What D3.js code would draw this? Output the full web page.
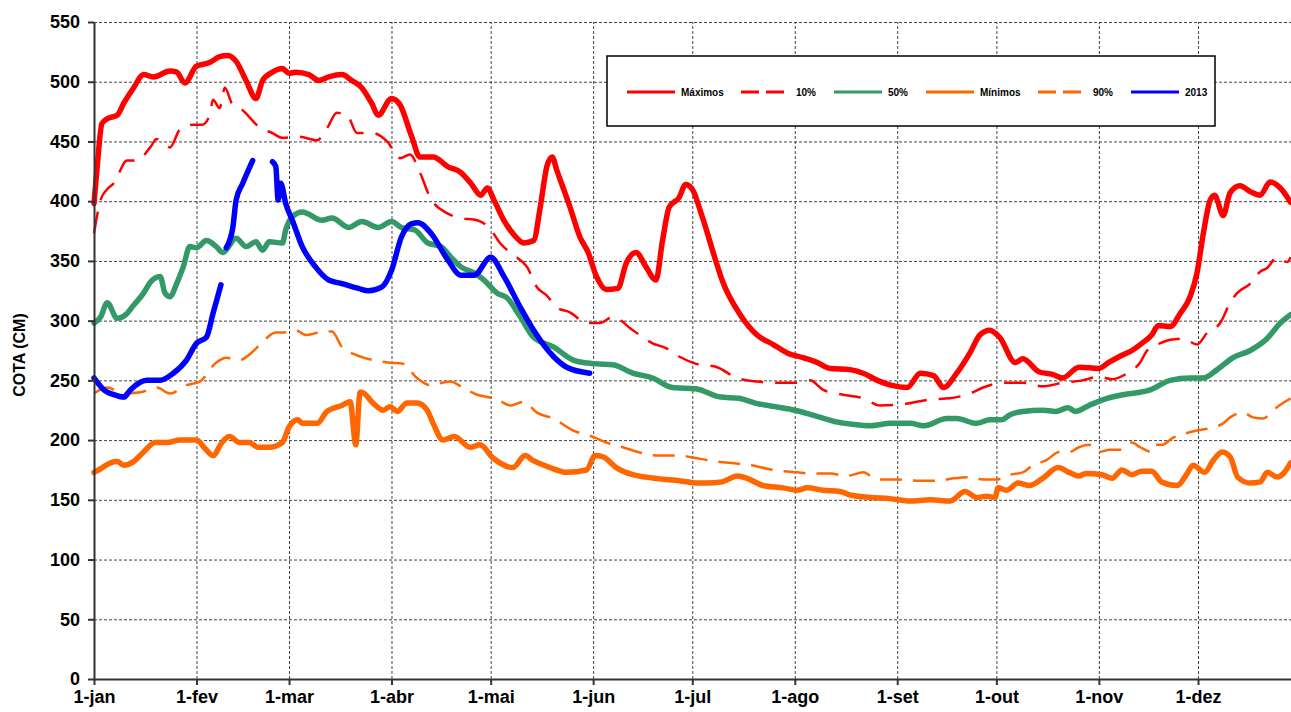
<!DOCTYPE html>
<html>
<head>
<meta charset="utf-8">
<script src="https://d3js.org/d3.v7.min.js"></script>
<style>
  body { margin: 0; background: #fff; }
  svg { display: block; font-family: "Liberation Sans", Arial, sans-serif; }
  .grid line { stroke: #444; stroke-width: 1; stroke-dasharray: 3,2; }
  .grid path { display: none; }
  .axis path, .axis line { stroke: #333; stroke-width: 2; }
  .axis text { font-size: 18px; font-weight: bold; fill: #000; }
  .serie { fill: none; stroke-linejoin: round; }
  .legenda text { font-size: 10px; font-weight: bold; }
</style>
</head>
<body>
<div id="chart"></div>
<script>
// dias do ano onde comeca cada mes + rotulos
var monthDays = [0, 31, 59, 90, 120, 151, 181, 212, 243, 273, 304, 334];
var monthLabels = ["1-jan", "1-fev", "1-mar", "1-abr", "1-mai", "1-jun", "1-jul", "1-ago", "1-set", "1-out", "1-nov", "1-dez"];
var yTicks = [0, 50, 100, 150, 200, 250, 300, 350, 400, 450, 500, 550];

// [dia, cota em cm]
var maximos = [[0,398],[1,430],[2.4,465],[4,469],[7,472],[9,482],[12,495],[15,506],[18,504],[23,509],[25,508],[27.5,499],[31,513],[35,516],[38,521],[40.5,522],[43,517],[46,501],[49,486],[51,501],[54,508],[57,511],[59,507],[61,508],[65,506],[68,501],[71,504],[75,506],[78,501],[81,495],[84,482],[86,472],[90,486],[92.5,481],[96,455],[98.6,437],[102.6,437],[107,429],[111,424],[114,415],[117,405],[119,411],[121,401],[124,384],[127,372],[130,365],[133,367],[135,395],[137,429],[138.6,437],[140,426],[144,395],[147,370],[149.5,357],[152,337],[155,326],[158.5,327],[161,348],[164,357],[167,345],[170,334],[172,367],[174,395],[177,403],[179,414],[181,410],[184,387],[188,351],[190,334],[195.5,305],[200.6,288],[205.5,280],[209.7,273],[214.5,269],[218.8,265],[222.7,260],[228.7,259],[232.7,256],[237,250],[241,246],[246,244],[250,256],[254,254],[257,244],[261,256],[265,273],[268,288],[271,292],[274,286],[278.7,265],[281,268],[286,257],[290,255],[293,252],[298,261],[304,260],[307,265],[311,271],[314,275],[317,281],[320,288],[322,296],[325.6,295],[328.6,306],[331.6,320],[333.7,340],[335.6,373],[337.7,401],[339,405],[341.6,388],[343.7,407],[346.7,413],[349.8,408],[352.8,405],[355.8,416],[358.9,411],[362,399]];

var p10 = [[0,373],[2,401],[4,410],[6,415],[10,434],[13,434],[17,445],[19,452],[23,445],[26,460],[30,464],[32.7,464],[35,472],[36,485],[38,478],[39.6,495],[41.7,482],[45,476],[50,462],[54,457],[57,453],[62,454],[67.5,451],[70.5,461],[73.5,474],[76.6,472],[79.6,457],[84.4,457],[88.7,450],[92.6,436],[95.6,439],[98.6,424],[101.7,403],[106.8,390],[110.7,386],[115.9,384],[119.8,377],[122.8,365],[126.8,355],[131,345],[134,328],[137,321],[140,311],[144,307],[149,298],[153,298],[157,303],[163,292],[169,281],[173,277],[177,270],[182,264],[188.5,261],[194.5,252],[200.6,249],[206.7,248],[212.7,248],[216.6,250],[220.6,242],[226.6,238],[232.7,235],[237.8,229],[244.8,230],[253,234],[259,235],[265,239],[269,244],[275,248],[281,248],[287,245],[293,248],[299,250],[304,253],[308,251],[312.6,256],[316.5,265],[318.6,275],[322.5,281],[325.6,284],[329.5,285],[333.7,280],[336.8,290],[340.7,298],[343.7,315],[345.8,323],[349.8,331],[352.8,341],[354.9,344],[357.9,353],[361,349],[362,353]];

var p50 = [[0,298],[2,303],[4,315],[7,302],[10,306],[12,313],[15,323],[17,332],[20,337],[21.5,323],[23,320],[25,331],[27,345],[29,362],[31,361],[34,367],[37,362],[39,357],[43,369],[46,362],[49,366],[51,359],[53,366],[57,365],[58,376],[60,387],[63,391],[69,384],[72,386],[77,378],[81,383],[86,378],[90,383],[93,378],[97,376],[101,365],[105,362],[108,353],[111,345],[115,340],[118,334],[122,323],[125,319],[129,303],[133,286],[139,278],[145,267],[151,264],[157,263],[163,256],[169,252],[175,244],[182,243],[189.6,236],[195,235],[200,231],[206,228],[212,225],[219.8,219],[225,215],[230,213],[235,212],[241,214],[247,214],[251,212],[258,218],[261,218],[267,214],[271,217],[274.6,217],[277,221],[281,224],[287,225],[291,224],[294.6,227],[297,224],[301,229],[306.5,235],[311.3,238],[319.5,242],[325.6,250],[331.6,252],[335.6,252],[339.8,259],[344.6,269],[349.8,275],[354.9,285],[358.9,298],[362,305]];

var minimos = [[0,173],[2,176],[5,181],[7,182],[9,179],[12,182],[15,190],[18.5,198],[22,198],[26,200],[31,200],[33.6,193],[36,187],[38.7,198],[41,203],[44,198],[47,198],[49.6,194],[53,194],[57,198],[59,211],[61.7,217],[63,214],[67.5,214],[70.5,224],[75,229],[77.5,232],[79.2,196],[80.5,240],[81,240],[84.4,231],[87.5,225],[89.6,228],[91.7,224],[94.7,231],[97.7,231],[100.8,225],[102.6,214],[105.6,200],[109,203],[113.8,194],[116.8,196],[120.7,185],[126.8,177],[130.4,187],[132.8,183],[138,177],[143,173],[149,175],[151.6,187],[154,186],[158,177],[163,171],[167,169],[173,167],[177,166],[182.7,164],[185.5,164],[190,165],[194.6,170],[197.6,168],[202.4,162],[208.5,160],[212.7,158],[215.7,160],[220.6,158],[225.7,157],[228.7,154],[234.8,152],[240.8,151],[246.9,149],[253,150],[259,149],[263.5,157],[267,152],[270,153],[272.6,152],[273.5,160],[276,158],[279.6,164],[283,162],[287,168],[291.7,177],[295,173],[298,170],[300,172],[305,171],[308,168],[311,175],[314,171],[317,174],[320,174],[323,165],[327.7,162],[330.7,172],[332.5,179],[336,173],[338.6,183],[341.3,190],[343.7,186],[346,169],[349.8,164],[352.8,165],[355,173],[358,169],[359.8,172],[362,181]];

var p90 = [[0,239],[4,244],[9,239],[14,240],[19,244],[23,239],[28,246],[32,249],[37,265],[40,269],[44,267],[48,274],[52,285],[55,290],[57,290],[61,292],[64,288],[68,290],[72,291],[75,278],[79.6,271],[84.4,267],[88.7,265],[93.5,264],[97.7,252],[101.7,246],[107.7,249],[111.6,244],[115.9,238],[119,236],[122,234],[126,229],[130,232],[134,223],[139,218],[145,208],[150.7,203],[155,198],[160,194],[166,189],[171,187],[177,187],[182,185],[186,183],[192,181],[198.5,179],[205.5,175],[212.7,173],[217.6,172],[222.7,172],[227.8,170],[232.7,173],[237,167],[243,167],[249,166],[255,166],[260,168],[265,169],[269,167],[273,167],[277,171],[281,173],[284,179],[288,183],[292,190],[295,190],[298,194],[301,196],[304,190],[307.4,192],[310.4,192],[314,198],[316.5,194],[320,190],[321,196],[323,196],[326.5,202],[330.7,206],[333.7,208],[337.7,210],[341.6,214],[343.7,219],[347.6,223],[350.7,219],[353.7,218],[356.7,225],[359.7,231],[362,235]];

// 2013, null = falha nos dados
var ano2013 = [[0,252],[3,242],[6,238],[9,236],[11,242],[16,250],[20,250],[24,256],[28,267],[31,281],[34,286],[36,306],[38.4,330],null,[40,361],[42,378],[43,401],[45,415],[48,434],null,[54,433],[55,429],[55.7,401],[56.5,415],[58,398],[60,384],[63,362],[67,345],[71,334],[75,331],[80,327],[83,325],[87,328],[90,342],[93,370],[96,381],[98,382],[102,373],[107,351],[111,338],[115,338],[120,353],[124,337],[129,311],[133,292],[139,270],[143,261],[150,256]];

var width = 1291, height = 712;

var svg = d3.select("#chart")
  .append("svg")
  .attr("width", width)
  .attr("height", height);

var xScale = d3.scaleLinear().domain([0, 365]).range([94, 1300.5]);
var yScale = d3.scaleLinear().domain([0, 550]).range([679, 22]);

// grelha
svg.append("g")
  .attr("class", "grid")
  .attr("transform", "translate(94,0)")
  .call(d3.axisLeft(yScale).tickValues(yTicks.slice(1)).tickSize(-(width - 94)).tickFormat(""));

svg.append("g")
  .attr("class", "grid")
  .attr("transform", "translate(0,679)")
  .call(d3.axisBottom(xScale).tickValues(monthDays.slice(1)).tickSize(-(679 - 22)).tickFormat(""));

var series = [
  { nome: "Máximos", data: maximos, cor: "#FF0000", w: 5.5, dash: null },
  { nome: "10%", data: p10, cor: "#FF0000", w: 2.5, dash: "22,12" },
  { nome: "50%", data: p50, cor: "#339966", w: 5.5, dash: null },
  { nome: "Mínimos", data: minimos, cor: "#FF6600", w: 5.5, dash: null },
  { nome: "90%", data: p90, cor: "#FF6600", w: 2.5, dash: "22,11" },
  { nome: "2013", data: ano2013, cor: "#0000FF", w: 5.5, dash: null }
];

var line = d3.line()
  .defined(function(d) { return d !== null; })
  .x(function(d) { return xScale(d[0]); })
  .y(function(d) { return yScale(d[1]); })
  .curve(d3.curveMonotoneX);

// tracejadas primeiro, depois as grossas
var ordem = [1, 4, 3, 0, 2, 5];
ordem.forEach(function(i) {
  var s = series[i];
  svg.append("path")
    .datum(s.data)
    .attr("class", "serie")
    .attr("stroke", s.cor)
    .attr("stroke-width", s.w)
    .attr("stroke-linecap", s.dash ? "butt" : "round")
    .attr("stroke-dasharray", s.dash)
    .attr("d", line);
});

// eixos
svg.append("g")
  .attr("class", "axis")
  .attr("transform", "translate(94,0)")
  .call(d3.axisLeft(yScale).tickValues(yTicks).tickSize(6).tickPadding(8).tickSizeOuter(0));

svg.append("g")
  .attr("class", "axis")
  .attr("transform", "translate(0,679)")
  .call(d3.axisBottom(xScale).tickValues(monthDays).tickSize(6).tickPadding(5).tickSizeOuter(0)
    .tickFormat(function(d, i) { return monthLabels[i]; }));

svg.append("text")
  .attr("transform", "translate(25,355) rotate(-90)")
  .attr("text-anchor", "middle")
  .style("font-size", "16px")
  .style("font-weight", "bold")
  .text("COTA (CM)");

// legenda (por cima da grelha)
var legenda = svg.append("g").attr("class", "legenda");

legenda.append("rect")
  .attr("x", 607)
  .attr("y", 56)
  .attr("width", 608)
  .attr("height", 70)
  .attr("fill", "#fff")
  .attr("stroke", "#000")
  .attr("stroke-width", 1.5);

var legX = [627, 741, 834, 926, 1038, 1131];
series.forEach(function(s, i) {
  legenda.append("line")
    .attr("x1", legX[i])
    .attr("x2", legX[i] + (s.dash ? 43 : 48))
    .attr("y1", 92)
    .attr("y2", 92)
    .attr("stroke", s.cor)
    .attr("stroke-width", 3)
    .attr("stroke-dasharray", s.dash ? "18,7" : null);
  legenda.append("text")
    .attr("x", legX[i] + (s.dash ? 55 : 54))
    .attr("y", 92)
    .attr("dy", "0.35em")
    .text(s.nome);
});
</script>
</body>
</html>
